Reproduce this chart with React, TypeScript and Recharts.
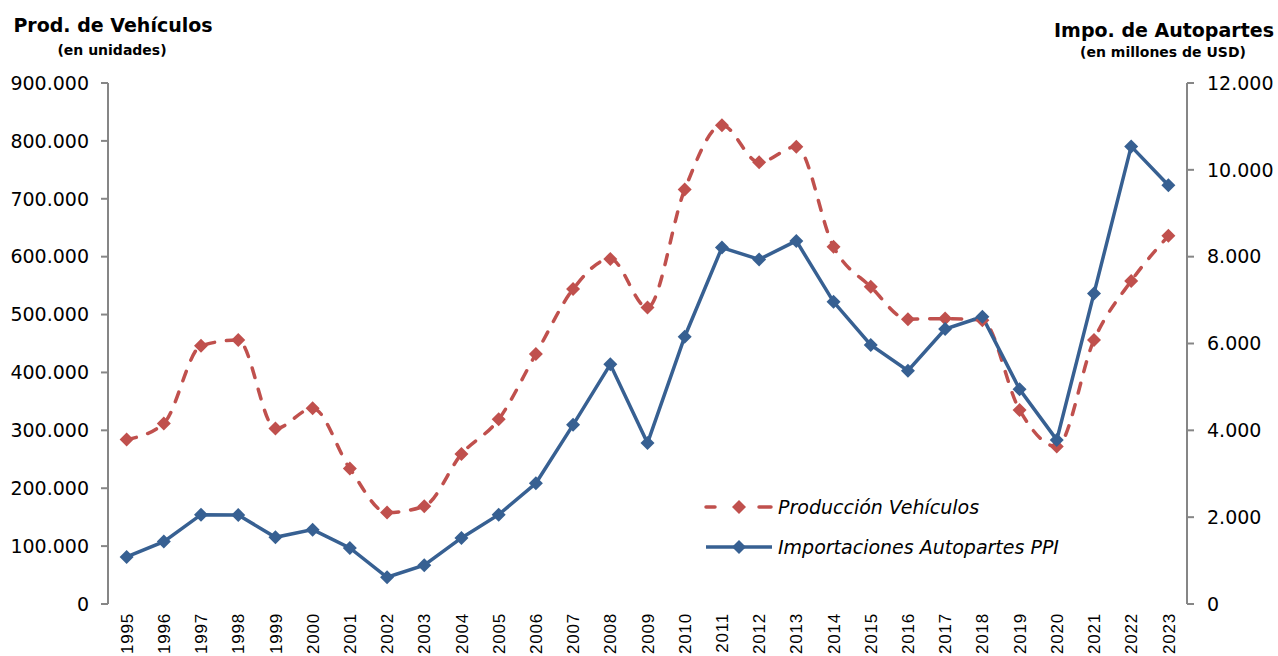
import React from "react";
import { LineChart, Line, XAxis, YAxis, Legend } from "recharts";

const years = [
  "1995", "1996", "1997", "1998", "1999", "2000", "2001", "2002", "2003", "2004",
  "2005", "2006", "2007", "2008", "2009", "2010", "2011", "2012", "2013", "2014",
  "2015", "2016", "2017", "2018", "2019", "2020", "2021", "2022", "2023",
];

// Producción Vehículos (unidades), eje izquierdo
const produccion = [
  284000, 312000, 446000, 456000, 303000, 338000, 234000, 158000, 169000, 259000,
  319000, 432000, 544000, 596000, 512000, 716000, 827000, 763000, 790000, 617000,
  548000, 492000, 493000, 490000, 335000, 272000, 456000, 558000, 636000,
];

// Importaciones Autopartes PPI (millones USD), eje derecho
const importaciones = [
  1085, 1437, 2057, 2050, 1536, 1713, 1292, 616, 892, 1522,
  2057, 2780, 4126, 5520, 3706, 6156, 8210, 7936, 8363, 6960,
  5966, 5375, 6333, 6616, 4947, 3780, 7154, 10540, 9644,
];

const leftTicks = [0, 100000, 200000, 300000, 400000, 500000, 600000, 700000, 800000, 900000];
const rightTicks = [0, 2000, 4000, 6000, 8000, 10000, 12000];
const sepTicks = [...years.map((_, i) => i), years.length];

const RED = "#C0504D";
const BLUE = "#376092";
const AXIS = "#868686";
const FONT = "'DejaVu Sans', Verdana, sans-serif";

const data = years.map((year, i) => ({
  year,
  produccion: produccion[i],
  importaciones: importaciones[i],
}));

const fmt = (v: number) => String(v).replace(/\B(?=(\d{3})+(?!\d))/g, ".");

const Diamond = (props: any) => {
  const { cx, cy, color } = props;
  if (cx == null || cy == null) return null;
  const r = 7;
  return (
    <path
      d={`M${cx},${cy - r}L${cx + r},${cy}L${cx},${cy + r}L${cx - r},${cy}Z`}
      fill={color}
    />
  );
};

const YearTick = (props: any) => {
  const { x, y, payload } = props;
  return (
    <text
      x={x}
      y={y}
      transform={`rotate(-90, ${x}, ${y})`}
      textAnchor="end"
      dy="0.36em"
      fill="#000"
      fontSize={17}
      letterSpacing={0.8}
      fontFamily="'Liberation Sans', Arial, sans-serif"
    >
      {payload.value}
    </text>
  );
};

const LegendBox = () => (
  <div style={{ fontFamily: FONT, fontStyle: "italic", fontSize: 19, color: "#000" }}>
    <div style={{ display: "flex", alignItems: "center", height: 40 }}>
      <svg width={75} height={20}>
        <line x1={3} x2={12} y1={10} y2={10} stroke={RED} strokeWidth={3.5} strokeLinecap="round" />
        <line x1={56} x2={68} y1={10} y2={10} stroke={RED} strokeWidth={3.5} strokeLinecap="round" />
        <Diamond cx={36} cy={10} color={RED} />
      </svg>
      <span>Producción Vehículos</span>
    </div>
    <div style={{ display: "flex", alignItems: "center", height: 40 }}>
      <svg width={75} height={20}>
        <line x1={3} x2={69} y1={10} y2={10} stroke={BLUE} strokeWidth={3.5} />
        <Diamond cx={36} cy={10} color={BLUE} />
      </svg>
      <span>Importaciones Autopartes PPI</span>
    </div>
  </div>
);

export default function App() {
  return (
    <div style={{ position: "absolute", left: 0, top: 0, width: 1278, height: 656, background: "#fff", overflow: "hidden" }}>
      <LineChart
        width={1278}
        height={656}
        data={data}
        margin={{ top: 83, right: 0, bottom: 0, left: 0 }}
      >
        <XAxis
          xAxisId="sep"
          type="number"
          domain={[0, years.length]}
          ticks={sepTicks}
          tick={false}
          tickSize={7}
          height={0}
          axisLine={{ stroke: AXIS, strokeWidth: 2 }}
          tickLine={{ stroke: AXIS, strokeWidth: 2 }}
        />
        <XAxis
          xAxisId="cat"
          dataKey="year"
          scale="band"
          interval={0}
          height={52}
          axisLine={false}
          tickLine={false}
          tickSize={0}
          tickMargin={9}
          tick={<YearTick />}
        />
        <YAxis
          yAxisId="left"
          width={108}
          domain={[0, 900000]}
          ticks={leftTicks}
          tickFormatter={fmt}
          tickSize={7}
          tickMargin={12}
          axisLine={{ stroke: AXIS, strokeWidth: 2 }}
          tickLine={{ stroke: AXIS, strokeWidth: 2 }}
          tick={{ fill: "#000", fontSize: 19, fontFamily: FONT }}
        />
        <YAxis
          yAxisId="right"
          orientation="right"
          width={91}
          domain={[0, 12000]}
          ticks={rightTicks}
          tickFormatter={fmt}
          tickSize={7}
          tickMargin={13}
          axisLine={{ stroke: AXIS, strokeWidth: 2 }}
          tickLine={{ stroke: AXIS, strokeWidth: 2 }}
          tick={{ fill: "#000", fontSize: 19, fontFamily: FONT }}
        />
        <Legend
          layout="vertical"
          align="center"
          verticalAlign="middle"
          content={<LegendBox />}
          wrapperStyle={{ left: 703, top: 487, width: 420 }}
        />
        <Line
          xAxisId="cat"
          yAxisId="left"
          type="monotone"
          dataKey="produccion"
          name="Producción Vehículos"
          stroke={RED}
          strokeWidth={3.5}
          strokeDasharray="10 12"
          strokeLinecap="round"
          dot={<Diamond color={RED} />}
          activeDot={false}
          isAnimationActive={false}
        />
        <Line
          xAxisId="cat"
          yAxisId="right"
          type="linear"
          dataKey="importaciones"
          name="Importaciones Autopartes PPI"
          stroke={BLUE}
          strokeWidth={3.5}
          dot={<Diamond color={BLUE} />}
          activeDot={false}
          isAnimationActive={false}
        />
      </LineChart>
      <svg
        width={1278}
        height={656}
        style={{ position: "absolute", left: 0, top: 0, pointerEvents: "none" }}
        fontFamily={FONT}
        fontWeight="bold"
        fill="#000"
      >
        <text x={113} y={32} textAnchor="middle" fontSize={19}>Prod. de Vehículos</text>
        <text x={112} y={55} textAnchor="middle" fontSize={14}>(en unidades)</text>
        <text x={1164} y={37} textAnchor="middle" fontSize={19}>Impo. de Autopartes</text>
        <text x={1163} y={57} textAnchor="middle" fontSize={14}>(en millones de USD)</text>
      </svg>
    </div>
  );
}
